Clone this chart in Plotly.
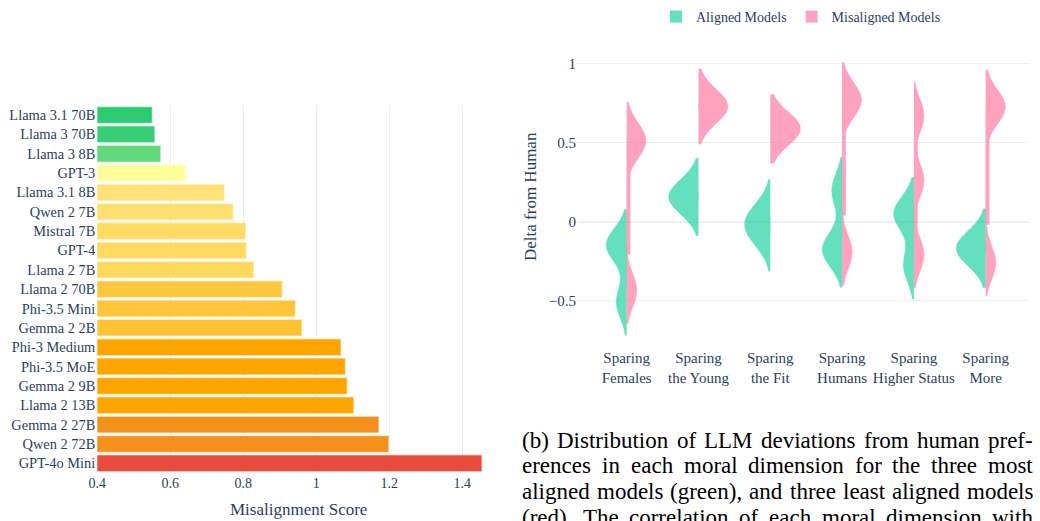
import plotly.graph_objects as go

# ---------------- data ----------------
models = ["Llama 3.1 70B", "Llama 3 70B", "Llama 3 8B", "GPT-3", "Llama 3.1 8B",
          "Qwen 2 7B", "Mistral 7B", "GPT-4", "Llama 2 7B", "Llama 2 70B",
          "Phi-3.5 Mini", "Gemma 2 2B", "Phi-3 Medium", "Phi-3.5 MoE", "Gemma 2 9B",
          "Llama 2 13B", "Gemma 2 27B", "Qwen 2 72B", "GPT-4o Mini"]
scores = [0.549, 0.556, 0.572, 0.640, 0.747, 0.771, 0.805, 0.807, 0.827, 0.905,
          0.941, 0.959, 1.066, 1.078, 1.083, 1.101, 1.170, 1.197, 1.452]
bar_colors = ["#2ECC71", "#36CF76", "#62D97C", "#FFFF99", "#FFE175", "#FFDF70",
              "#FFDB62", "#FFDB62", "#FFD95E", "#FFC73D", "#FFC53A", "#FFC232",
              "#FFA500", "#FFA500", "#FFA500", "#FFA500", "#F5901A", "#F5901A",
              "#E74C3C"]
x_ticks = [0.4, 0.6, 0.8, 1.0, 1.2, 1.4]

dimensions = ["Sparing<br>Females", "Sparing<br>the Young", "Sparing<br>the Fit",
              "Sparing<br>Humans", "Sparing<br>Higher Status", "Sparing<br>More"]
aligned_deltas = [[-0.51, -0.16, -0.136],
                  [0.121, 0.158, 0.19],
                  [-0.104, -0.015, 0.056],
                  [-0.206, -0.15, 0.197],
                  [-0.28, 0.03, 0.07],
                  [-0.21, -0.17, -0.13]]
misaligned_deltas = [[-0.436, 0.48, 0.545],
                     [0.70, 0.73, 0.756],
                     [0.579, 0.588, 0.594],
                     [-0.195, 0.74, 0.798],
                     [-0.21, 0.26, 0.67],
                     [-0.26, 0.70, 0.75]]
y2_ticks = [-0.5, 0, 0.5, 1]

caption_lines = ["(b) Distribution of LLM deviations from human pref-",
                 "erences in each moral dimension for the three most",
                 "aligned models (green), and three least aligned models",
                 "(red).  The correlation of each moral dimension with"]

# ---------------- helpers ----------------
W, H = 1040, 521
def px(v):
    return v / W
def py(v):
    return 1 - v / H

def hex_rgba(h, a):
    h = h.lstrip("#")
    return "rgba(%d,%d,%d,%.2f)" % (int(h[0:2], 16), int(h[2:4], 16), int(h[4:6], 16), a)

fig = go.Figure()

fig.add_trace(go.Bar(
    x=scores, y=models, orientation="h",
    marker=dict(color=bar_colors,
                line=dict(color=[hex_rgba(c, 0.45) for c in bar_colors], width=1.5)),
    showlegend=False, xaxis="x", yaxis="y"))

def flat(groups):
    xs, ys = [], []
    for d, vals in zip(dimensions, groups):
        for v in vals:
            xs.append(d)
            ys.append(v)
    return xs, ys

groups_info = [("Aligned Models", aligned_deltas, "#00CC96", "negative"),
               ("Misaligned Models", misaligned_deltas, "#FF6692", "positive")]
for name, groups, col, side in groups_info:
    xs, ys = flat(groups)
    fig.add_trace(go.Violin(
        x=xs, y=ys, name=name, side=side, bandwidth=0.105, width=0.83,
        line=dict(color=col, width=0.5), fillcolor=col, opacity=0.6,
        points=False, spanmode="soft", scalemode="width",
        box=dict(visible=True, width=0.25, fillcolor=col, line=dict(color=col, width=0)),
        meanline=dict(visible=False), showlegend=False, legendgroup=name,
        xaxis="x2", yaxis="y2"))
# square legend entries
for name, groups, col, side in groups_info:
    fig.add_trace(go.Bar(x=[None], y=[None], name=name, legendgroup=name,
                         marker=dict(color=col, line=dict(width=0)), opacity=0.6,
                         showlegend=True, xaxis="x2", yaxis="y2"))

# caption with justified lines
cap_size = 23
cw = {' ': 250, '(': 333, ')': 333, ',': 250, '-': 333, '.': 250, 'a': 444, 'b': 500,
      'c': 444, 'd': 500, 'e': 444, 'f': 333, 'g': 500, 'h': 500, 'i': 278, 'l': 278,
      'm': 778, 'n': 500, 'o': 500, 'p': 500, 'r': 333, 's': 389, 't': 278, 'u': 500,
      'v': 500, 'w': 722, 'y': 500, 'D': 722, 'L': 611, 'M': 889, 'T': 611}
annotations = []
x0, x1 = 521, 1032
line_y = [440, 465.5, 491, 517]
for line, yc in zip(caption_lines, line_y):
    words = line.split()
    widths = [sum(cw.get(ch, 500) for ch in w) / 1000 * cap_size for w in words]
    gap = (x1 - x0 - sum(widths)) / (len(words) - 1)
    xc = x0
    for w, wd in zip(words, widths):
        annotations.append(dict(text=w, x=px(xc), y=py(yc), xref="paper", yref="paper",
                                xanchor="left", yanchor="middle", showarrow=False,
                                borderpad=0,
                                font=dict(family="Liberation Serif", size=cap_size, color="black")))
        xc += wd + gap

annotations.append(dict(text="Misalignment Score", x=px(298), y=py(509), xref="paper", yref="paper",
                        xanchor="center", yanchor="middle", showarrow=False,
                        font=dict(size=17)))
annotations.append(dict(text="Delta from Human", x=px(530), y=py(197), xref="paper", yref="paper",
                        xanchor="center", yanchor="middle", showarrow=False, textangle=-90,
                        font=dict(size=17)))

y2_top, y2_bot = 45, 344
zero_px, unit_px = 221.5, 158
fig.update_layout(
    width=W, height=H, template="plotly_white",
    margin=dict(l=0, r=0, t=0, b=0),
    font=dict(family="Liberation Serif", size=14, color="#2a3f5f"),
    xaxis=dict(domain=[px(97.3), px(97.3 + 1.07 * 365)], range=[0.4, 1.47], tickvals=x_ticks,
               anchor="y", automargin=False, showline=False, zeroline=False),
    yaxis=dict(domain=[py(473), py(105.3)], anchor="x", autorange="reversed",
               showgrid=False, automargin=False, ticks="", ticklabelstandoff=1,
               tickfont=dict(size=14.4)),
    xaxis2=dict(domain=[px(577), px(1030)], anchor="y2", range=[-0.692, 5.617],
                showgrid=False, automargin=False, tickfont=dict(size=15),
                ticklabelstandoff=3),
    yaxis2=dict(domain=[py(y2_bot), py(y2_top)], anchor="x2",
                range=[(zero_px - y2_bot) / unit_px, (zero_px - y2_top) / unit_px],
                tickvals=y2_ticks, automargin=False, tickfont=dict(size=15)),
    violinmode="overlay", barmode="overlay", bargap=0.2,
    legend=dict(orientation="h", x=px(801), xanchor="center", y=py(17), yanchor="middle",
                font=dict(size=14)),
    annotations=annotations,
)

fig.write_html("out.html", config={"displayModeBar": False},
               post_script="document.body.style.margin='0';")
